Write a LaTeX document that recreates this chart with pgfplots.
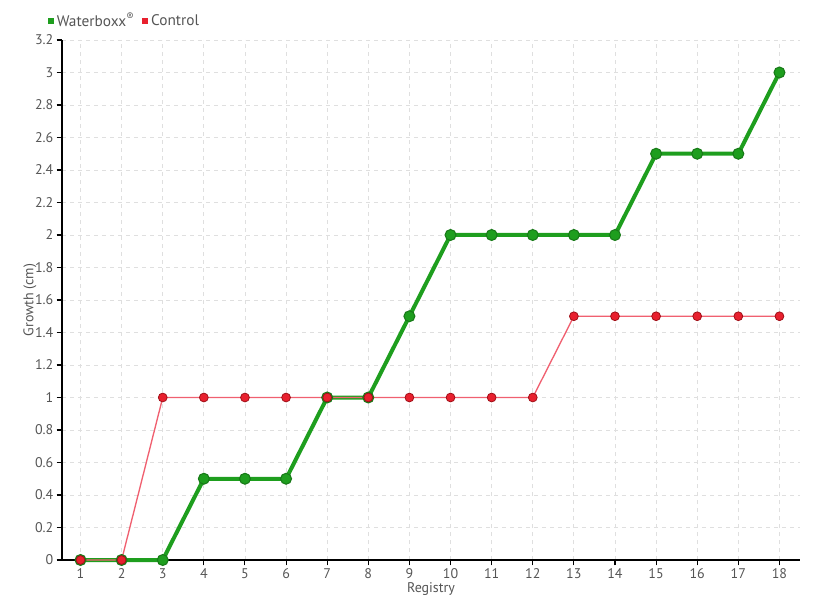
\documentclass[border=0pt]{standalone}
\usepackage{fontspec}
\setmainfont{PT Sans}
\usepackage{pgfplots}
\pgfplotsset{compat=1.18}
\definecolor{wbGreen}{HTML}{1E9E1E}
\definecolor{wbGreenDark}{HTML}{187A18}
\definecolor{ctlRed}{HTML}{E8202E}
\definecolor{ctlRedDark}{HTML}{A01018}
\definecolor{ctlLine}{HTML}{F06070}
\definecolor{txtGray}{HTML}{555555}

\begin{document}
\begin{tikzpicture}
\path[use as bounding box] (-46.5pt,-30pt) rectangle (568.5pt,420pt);
\begin{axis}[
    at={(0,0)}, anchor=south west,
    scale only axis, width=553.5pt, height=390pt,
    xmin=0.55, xmax=18.5, ymin=0, ymax=3.2,
    xtick={1,...,18},
    ytick={0,0.2,...,3.2},
    axis x line*=bottom, axis y line*=left,
    axis line style={black, line width=0.8pt, -},
    grid=major, grid style={dashed, gray!25, line width=0.6pt},
    tick style={black, line width=0.8pt},
    major tick length=4pt,
    tick align=outside,
    ticklabel style={font=\fontsize{10.5}{12}\selectfont, text=txtGray},
    /pgf/number format/assume math mode=true,
    xticklabel style={yshift=1pt},
    yticklabel style={xshift=1pt},
    xlabel={Registry}, ylabel={Growth (cm)},
    label style={font=\fontsize{10.5}{12}\selectfont, text=txtGray},
    xlabel style={yshift=4pt},
    ylabel style={yshift=-8pt},
    legend style={at={(-0.019,1.016)}, anchor=south west, draw=none, fill=none,
        legend columns=-1, font=\fontsize{11.5}{13}\selectfont, text=txtGray,
        inner sep=0pt, /tikz/every even column/.append style={column sep=4pt}},
    clip=false,
]
\addplot[wbGreen, line width=3pt, mark=*, mark size=4.1pt,
    mark options={fill=wbGreen, draw=wbGreenDark, line width=0.8pt}, forget plot]
  coordinates {(1,0) (2,0) (3,0) (4,0.5) (5,0.5) (6,0.5) (7,1) (8,1) (9,1.5)
    (10,2) (11,2) (12,2) (13,2) (14,2) (15,2.5) (16,2.5) (17,2.5) (18,3)};
\addplot[ctlLine, line width=1pt, mark=*, mark size=3.3pt,
    mark options={fill=ctlRed, draw=ctlRedDark, line width=0.6pt}, forget plot]
  coordinates {(1,0) (2,0) (3,1) (4,1) (5,1) (6,1) (7,1) (8,1) (9,1)
    (10,1) (11,1) (12,1) (13,1.5) (14,1.5) (15,1.5) (16,1.5) (17,1.5) (18,1.5)};
\addlegendimage{area legend, draw=none, fill=wbGreen,
    legend image code/.code={\fill[wbGreen] (0pt,-2.2pt) rectangle (4.5pt,2.3pt);}}
\addlegendentry{Waterboxx\textsuperscript{®}}
\addlegendimage{area legend, draw=none, fill=ctlRed,
    legend image code/.code={\fill[ctlRed] (0pt,-2.2pt) rectangle (4.5pt,2.3pt);}}
\addlegendentry{Control}
\end{axis}
\end{tikzpicture}
\end{document}
